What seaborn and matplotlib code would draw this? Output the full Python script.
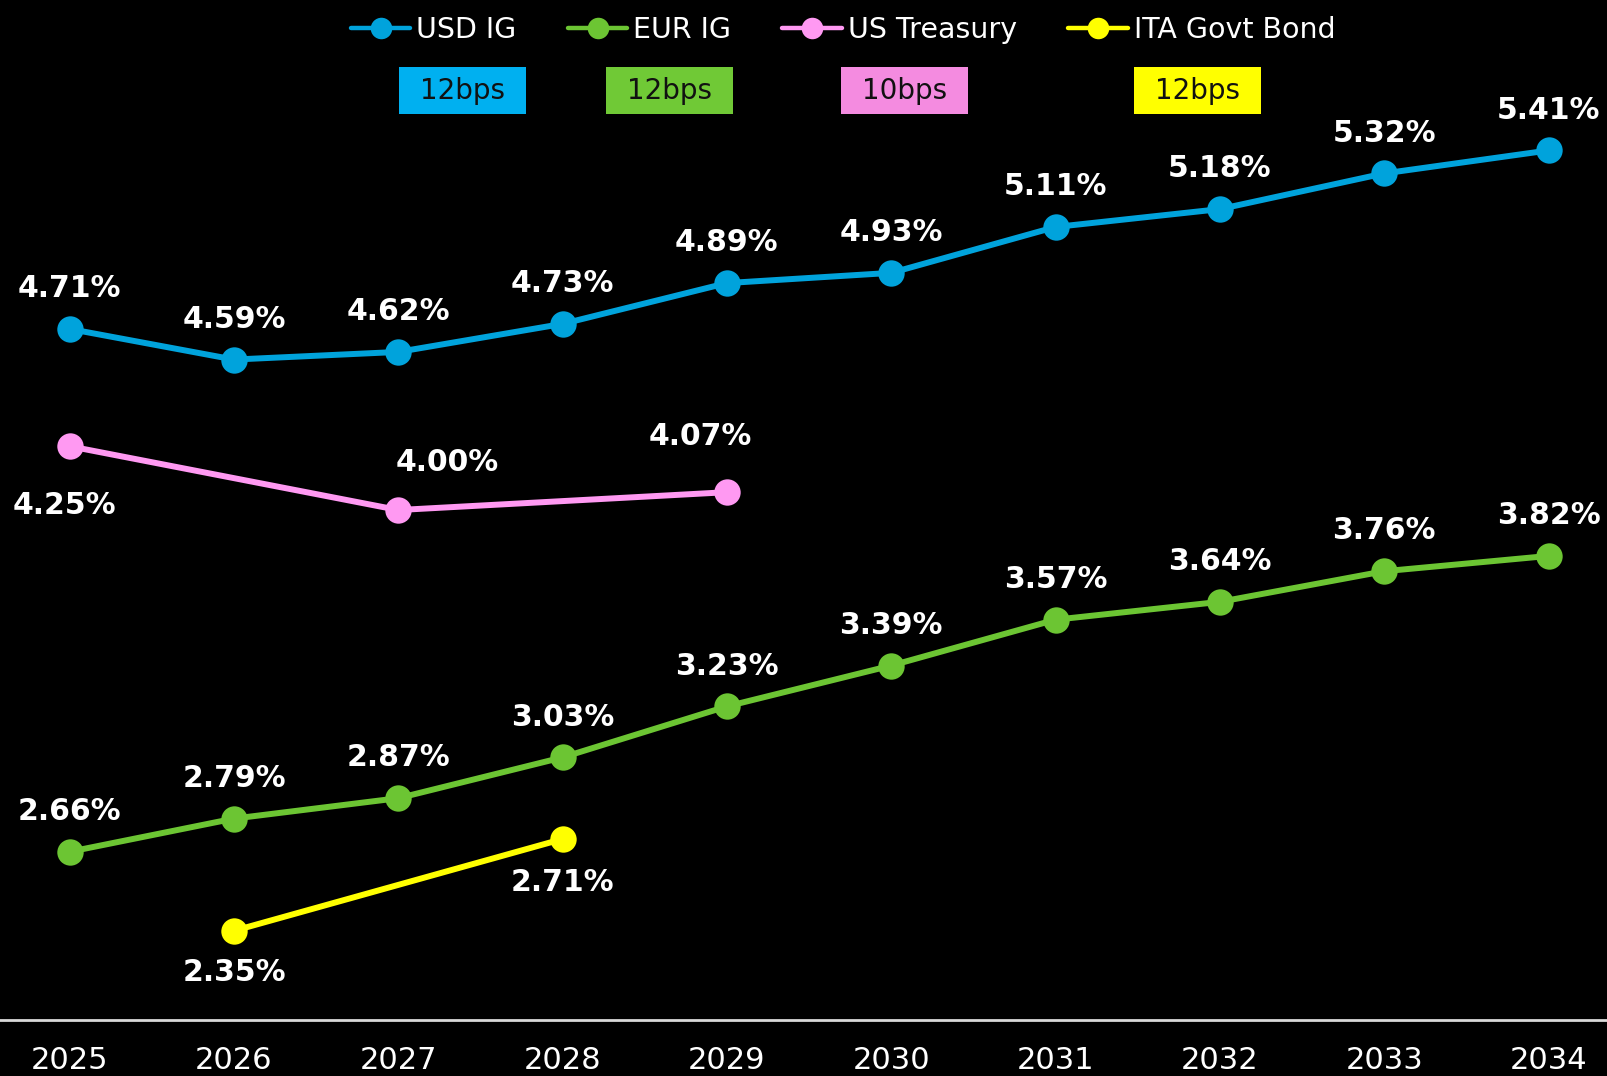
import matplotlib
matplotlib.use("Agg")
import matplotlib.pyplot as plt
from matplotlib.patches import Rectangle
import seaborn as sns
import pandas as pd

years = [2025, 2026, 2027, 2028, 2029, 2030, 2031, 2032, 2033, 2034]
usd_ig = [4.71, 4.59, 4.62, 4.73, 4.89, 4.93, 5.11, 5.18, 5.32, 5.41]
eur_ig = [2.66, 2.79, 2.87, 3.03, 3.23, 3.39, 3.57, 3.64, 3.76, 3.82]
ust_years = [2025, 2027, 2029]
ust = [4.25, 4.00, 4.07]
ita_years = [2026, 2028]
ita = [2.35, 2.71]
bps_labels = ["12bps", "12bps", "10bps", "12bps"]

sns.set_theme(style="dark")
plt.rcParams['font.family'] = ['DejaVu Sans']

series = [
    ("USD IG", years, usd_ig, "#00A3DC"),
    ("EUR IG", years, eur_ig, "#6CC533"),
    ("US Treasury", ust_years, ust, "#FF99F2"),
    ("ITA Govt Bond", ita_years, ita, "#FFFF00"),
]
box_colors = ["#00B0F0", "#70C936", "#F48BE0", "#FFFF00"]

frames = []
for name, xs, ys, _ in series:
    frames.append(pd.DataFrame({"year": xs, "yield": ys, "series": name}))
df = pd.concat(frames, ignore_index=True)

fig = plt.figure(figsize=(16.07, 10.76), dpi=100, facecolor="black")
ax = fig.add_axes([0, 0.052, 1, 0.948])
ax.set_facecolor("black")

palette = {name: c for name, _, _, c in series}
sns.lineplot(data=df, x="year", y="yield", hue="series", palette=palette,
             marker="o", markersize=19, markeredgewidth=0, linewidth=4.3,
             ax=ax, legend=False)

ax.set_xlim(2024.576, 2034.356)
ax.set_ylim(2.0, 6.0)

# value labels, offsets in points (dx, dy)
lab_font = dict(color="white", fontsize=21.5, fontweight="bold",
                ha="center", va="center")
for x, y in zip(years, usd_ig):
    ax.annotate(f"{y:.2f}%", (x, y), xytext=(0, 29), textcoords="offset points", **lab_font)
for x, y in zip(years, eur_ig):
    ax.annotate(f"{y:.2f}%", (x, y), xytext=(0, 29), textcoords="offset points", **lab_font)
ust_off = [(-4, -43), (35, 34), (-19, 40)]
for (x, y), off in zip(zip(ust_years, ust), ust_off):
    ax.annotate(f"{y:.2f}%", (x, y), xytext=off, textcoords="offset points", **lab_font)
ita_off = [(0, -30), (0, -31)]
for (x, y), off in zip(zip(ita_years, ita), ita_off):
    ax.annotate(f"{y:.2f}%", (x, y), xytext=off, textcoords="offset points", **lab_font)

# axes styling
for s in ["top", "left", "right"]:
    ax.spines[s].set_visible(False)
ax.spines["bottom"].set_color("#D9D9D9")
ax.spines["bottom"].set_linewidth(2)
ax.set_yticks([])
ax.set_xticks(years)
ax.set_xticklabels([str(y) for y in years], color="white", fontsize=22)
ax.tick_params(axis="x", length=0, pad=19)
ax.set_xlabel("")
ax.set_ylabel("")
ax.grid(False)

# legend
handles = [plt.Line2D([], [], color=c, marker="o", markersize=15.5, linewidth=3.2,
                      markeredgewidth=0) for _, _, _, c in series]
leg = fig.legend(handles, [s[0] for s in series], loc="upper center",
                 bbox_to_anchor=(0.5246, 1.009), ncol=4, frameon=False,
                 fontsize=20.5, handlelength=2.1, handletextpad=0.2,
                 columnspacing=1.8)
for t in leg.get_texts():
    t.set_color("white")

# bps boxes
box_x = [399, 606, 841, 1134]
for bx, lab, c in zip(box_x, bps_labels, box_colors):
    fig.patches.append(Rectangle((bx / 1607, 1 - 114 / 1076), 127 / 1607, 47 / 1076,
                                 transform=fig.transFigure, facecolor=c, edgecolor="none"))
    fig.text((bx + 63.5) / 1607, 1 - 91 / 1076, lab, ha="center", va="center",
             fontsize=20, color="#111111")

fig.savefig("out.png", dpi=100, facecolor="black")
